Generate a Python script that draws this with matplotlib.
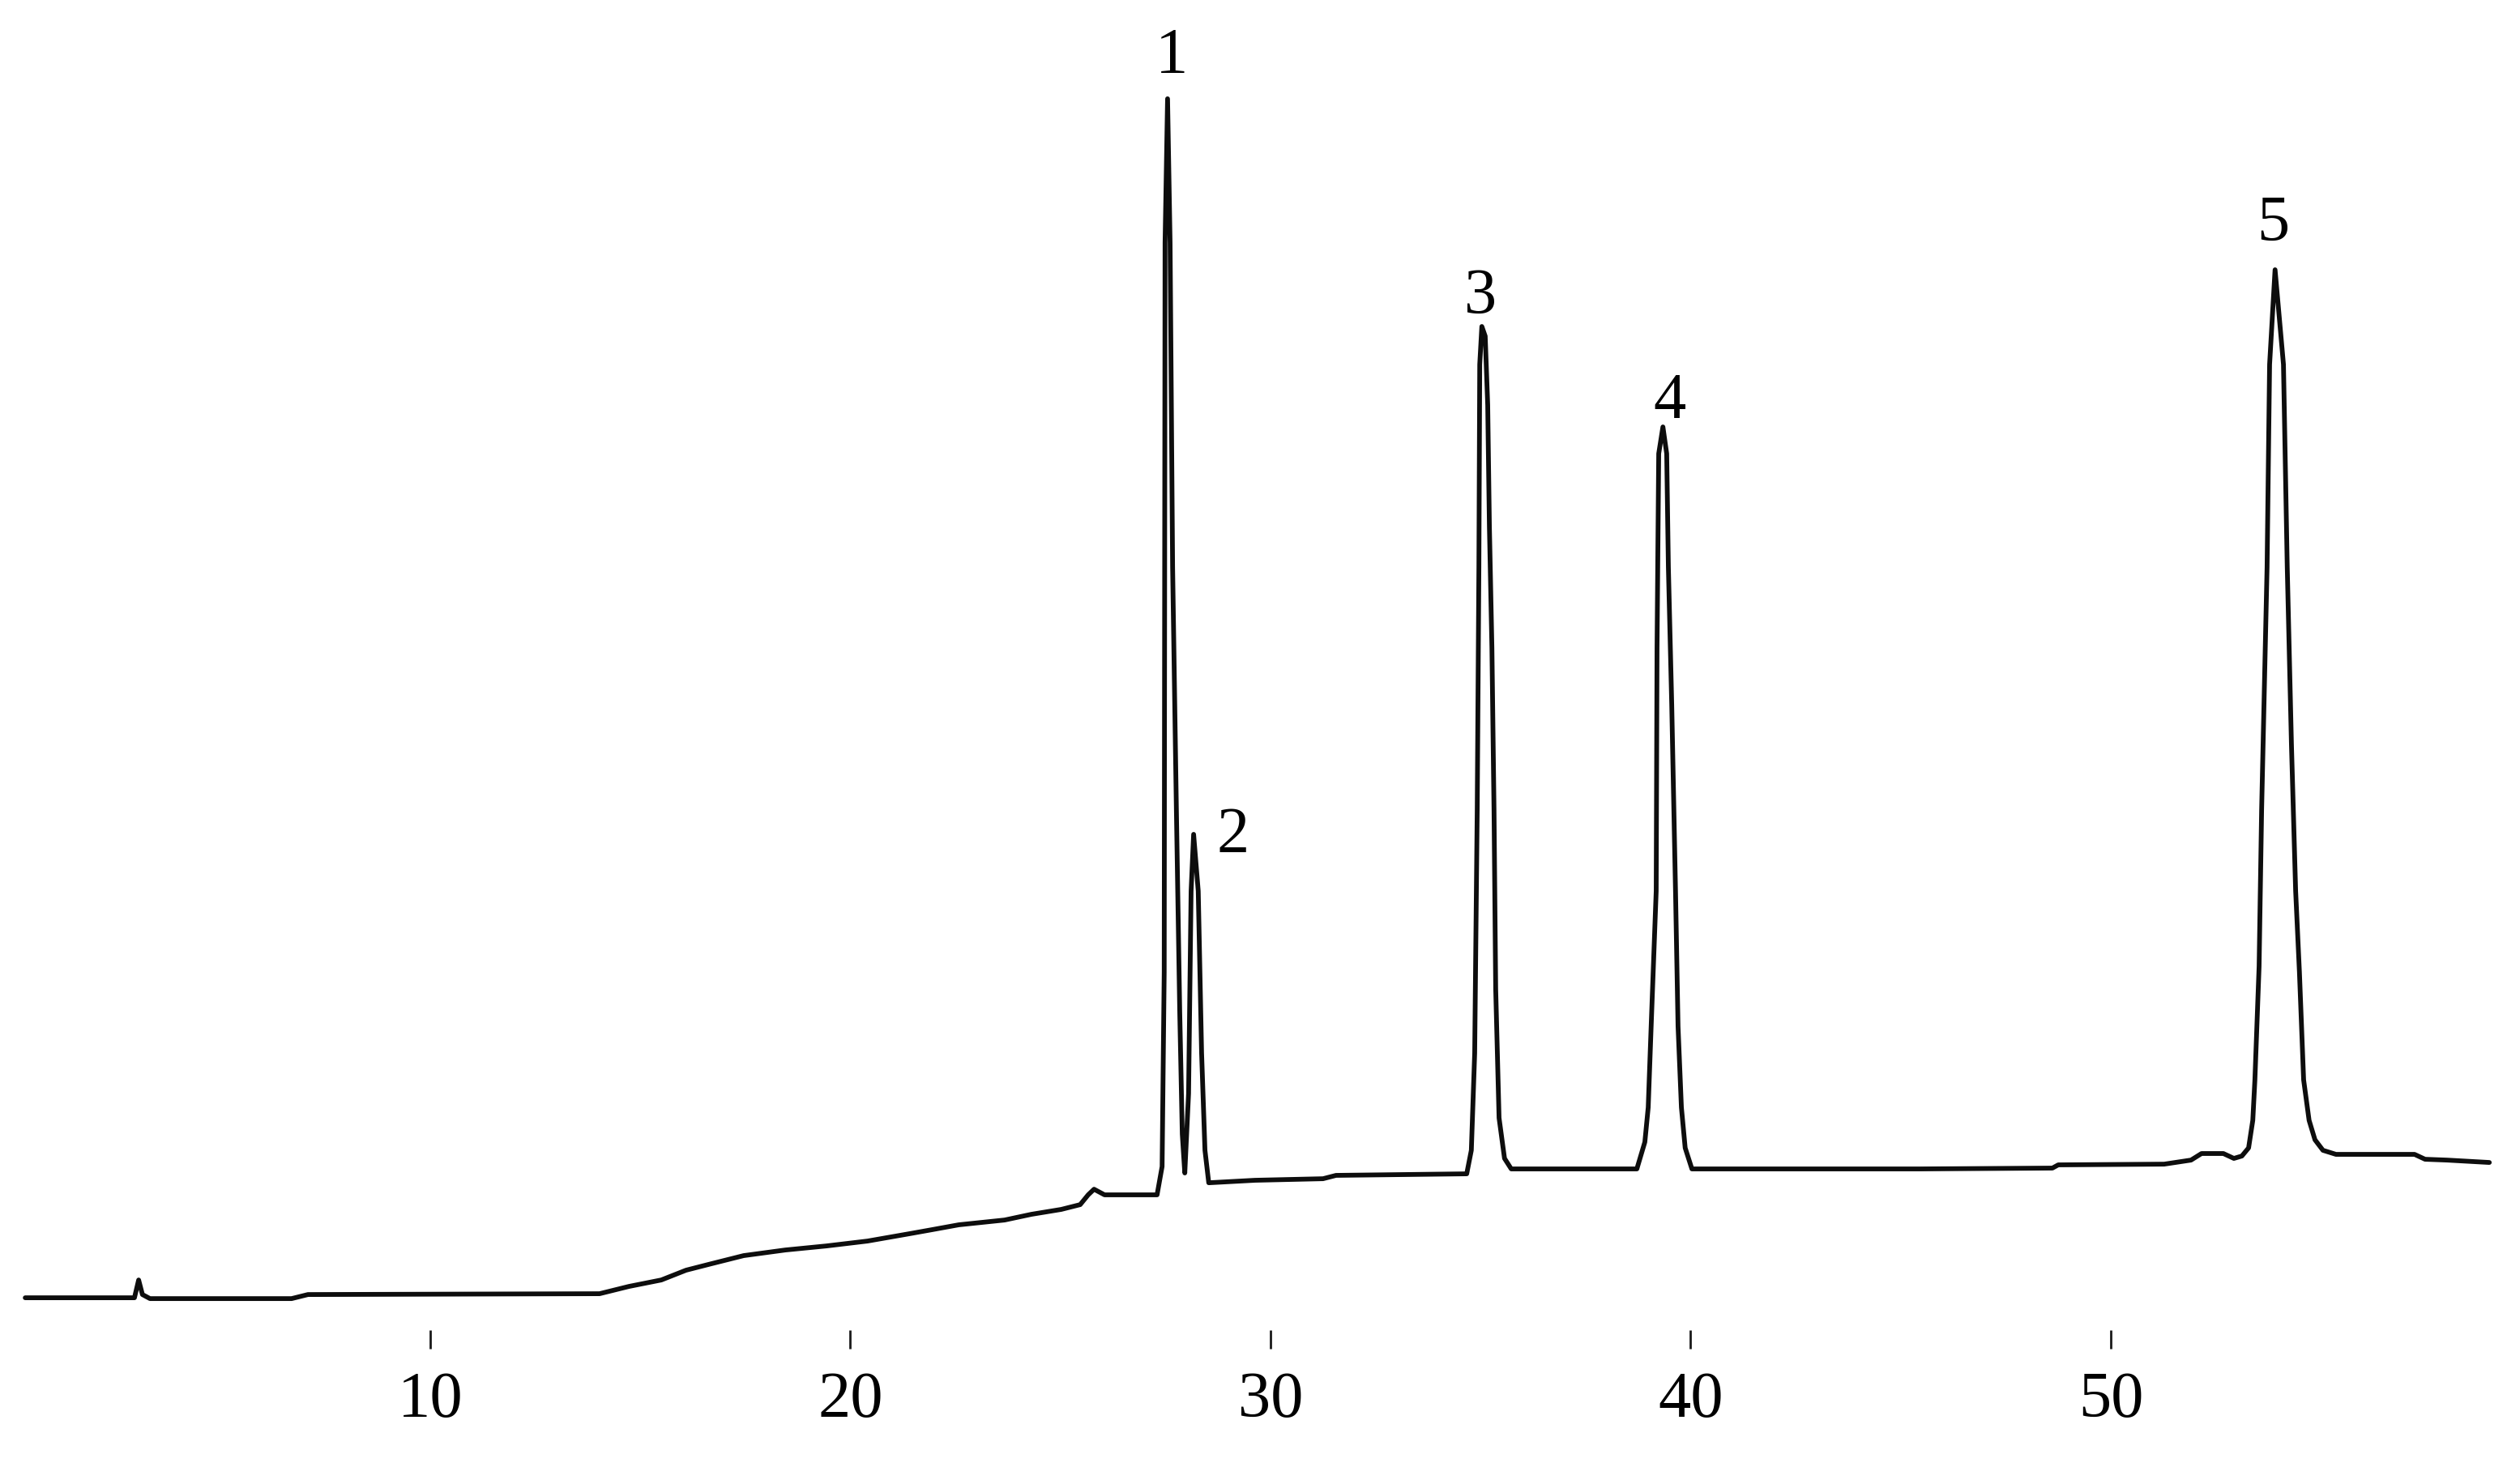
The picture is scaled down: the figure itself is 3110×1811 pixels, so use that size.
import numpy as np
import matplotlib
matplotlib.use("Agg")
import matplotlib.pyplot as plt

# --- Configuration ---
OUTPUT_FILENAME = "out.png"
FONT = "Liberation Serif"

# --- Trace (time in min, detector signal in a.u.) ---
time_min = [
    0.36, 2.65, 2.96, 3.06, 3.15, 3.33, 6.70, 7.09, 14.03,
    14.73, 15.50, 16.09, 16.69, 17.46, 18.45, 19.43, 20.41, 21.40, 21.94,
    22.58, 23.67, 24.31, 25.02, 25.47, 25.66, 25.80, 26.05, 27.30,
    # peak 1
    27.42, 27.47, 27.49, 27.55, 27.61, 27.67, 27.76, 27.84, 27.90, 27.96,
    # peak 2
    28.05, 28.11, 28.17, 28.28, 28.36, 28.44, 28.53,
    29.63, 31.25, 31.56, 34.67,
    # peak 3
    34.78, 34.86, 34.92, 34.96, 34.98, 35.03, 35.11, 35.17, 35.21, 35.27, 35.32,
    35.36, 35.44, 35.57, 35.73,
    38.72,
    # peak 4
    38.91, 38.99, 39.06, 39.18, 39.20, 39.24, 39.34, 39.43, 39.47, 39.55, 39.64,
    39.70, 39.78, 39.87, 40.03,
    45.45, 48.61, 48.75, 51.27, 51.91, 52.16, 52.68, 52.93, 53.12,
    # peak 5
    53.28, 53.38, 53.43, 53.53, 53.59, 53.72, 53.78, 53.91, 54.11, 54.20, 54.30,
    54.40, 54.49, 54.59, 54.72, 54.86, 55.05, 55.36,
    57.23, 57.48, 58.00, 59.01,
]
signal = [
    -0.34, -0.34, -0.34, 1.15, -0.07, -0.41, -0.41, -0.07, 0.00,
    0.61, 1.15, 1.97, 2.51, 3.19, 3.66, 4.00, 4.41, 5.02, 5.36,
    5.77, 6.17, 6.65, 7.06, 7.46, 8.28, 8.75, 8.28, 8.28,
    10.65, 26.93, 88.00, 100.07, 88.00, 60.85, 40.50, 23.54, 13.37, 10.11,
    16.76, 33.72, 38.47, 33.72, 20.15, 12.01, 9.29,
    9.50, 9.63, 9.91, 10.04,
    12.01, 20.15, 40.50, 60.85, 77.82, 81.00, 80.19, 74.42, 64.25, 54.07, 40.50,
    25.51, 14.72, 11.33, 10.45,
    10.45,
    12.70, 15.60, 22.39, 33.72, 54.07, 70.35, 72.59, 70.35, 60.85, 49.32, 33.72,
    22.39, 15.60, 12.21, 10.45,
    10.45, 10.52, 10.79, 10.85, 11.19, 11.74, 11.74, 11.33, 11.53,
    12.21, 14.52, 17.91, 27.41, 40.50, 60.85, 77.82, 85.75, 77.82, 60.85, 46.00,
    33.72, 26.93, 17.91, 14.52, 12.89, 12.01, 11.67,
    11.67, 11.26, 11.19, 10.99,
]

# --- Peak labels ---
peak_labels = ["1", "2", "3", "4", "5"]
peak_times = [27.55, 28.17, 35.03, 39.34, 53.91]
x_ticks = [10, 20, 30, 40, 50]


def main():
    fig = plt.figure(figsize=(31.10, 18.11), dpi=100)
    ax = fig.add_axes([0, 0.0933, 1, 0.9067])

    ax.plot(time_min, signal, color="#0d0d0d", linewidth=4.2,
            solid_joinstyle="round", solid_capstyle="round")

    # label offsets (points) relative to each apex, baseline-anchored
    offsets = [(4, 23), (35, -16), (-1, 11.5), (6, 8), (-2, 26)]
    for lab, t, (dx, dy) in zip(peak_labels, peak_times, offsets):
        h = np.interp(t, time_min, signal)
        ax.annotate(lab, xy=(t, h), xytext=(dx, dy), textcoords="offset points",
                    ha="center", va="baseline", fontsize=58, family=FONT, color="black")

    ax.set_xlim(-0.24, 59.74)
    ax.set_ylim(-3.05, 108.34)
    ax.set_xticks(x_ticks)
    ax.set_xticklabels([str(t) for t in x_ticks], family=FONT, fontsize=58)
    ax.tick_params(axis="x", direction="out", length=16.6, width=2.0,
                   color="#1a1a1a", pad=20)
    ax.set_yticks([])
    for side in ["top", "bottom", "left", "right"]:
        ax.spines[side].set_visible(False)
    ax.patch.set_alpha(0)

    fig.savefig(OUTPUT_FILENAME, dpi=100, facecolor="white")


if __name__ == "__main__":
    main()
